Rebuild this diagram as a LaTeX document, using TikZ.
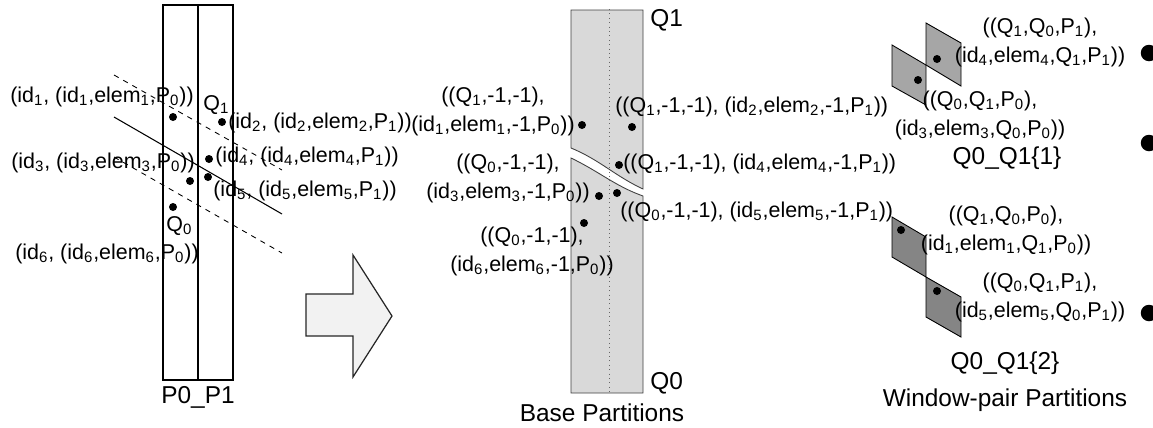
\documentclass[tikz,border=0pt]{standalone}
\usepackage{fontspec}
\setmainfont{Liberation Sans}
\usetikzlibrary{positioning}

\definecolor{basegray}{HTML}{D9D9D9}
\definecolor{paneone}{HTML}{A6A6A6}
\definecolor{panetwo}{HTML}{858585}
\definecolor{arrowgray}{HTML}{F2F2F2}
\newcommand{\ix}[1]{\textsubscript{#1}}

\begin{document}
\begin{tikzpicture}[x=0.02cm, y=-0.02cm]
        \tikzstyle{tuple}=[font=\fontsize{12.2}{16.5}\selectfont, inner sep=0pt, align=center];
        \tikzstyle{caption}=[font=\fontsize{13.9}{16}\selectfont, inner sep=0pt];
        \tikzstyle{elemdot}=[circle, fill=black, inner sep=0pt, minimum size=0.16cm];
        \tikzstyle{edgedot}=[circle, fill=black, inner sep=0pt, minimum size=0.33cm];
        \tikzstyle{pane}=[draw=black, line width=0.5pt];

        \useasboundingbox (0,0) rectangle (1153,427);

        % input strip P0_P1
        \draw [line width=0.6pt] (163,5) rectangle (233,380);
        \draw [line width=0.6pt] (198,5) -- (198,380);
        \node [caption] (P0P1) at (198,397) {P0\_P1};

        \draw [dashed, line width=0.5pt] (114,75) -- (282,170);
        \draw [line width=0.6pt] (114,117) -- (282,214);
        \draw [dashed, line width=0.5pt] (114,157) -- (282,253);

        \node [elemdot] (a1) at (173,117) {};
        \node [elemdot] (a2) at (222,122) {};
        \node [elemdot] (a4) at (209,159) {};
        \node [elemdot] (a3) at (190,181) {};
        \node [elemdot] (a5) at (208,177) {};
        \node [elemdot] (a6) at (173,207) {};

        \node [tuple] (t1) at (102,97) {(id\ix1, (id\ix1,elem\ix1,P\ix0))};
        \node [tuple, anchor=west] (Q1a) at (203,105) {Q\ix1};
        \node [tuple, anchor=west] (t2) at (228,123) {(id\ix2, (id\ix2,elem\ix2,P\ix1))};
        \node [tuple, anchor=west] (t4) at (215,157) {(id\ix4, (id\ix4,elem\ix4,P\ix1))};
        \node [tuple, anchor=east] (t3) at (195,163) {(id\ix3, (id\ix3,elem\ix3,P\ix0))};
        \node [tuple, anchor=west] (t5) at (213,191) {(id\ix5, (id\ix5,elem\ix5,P\ix1))};
        \node [tuple, anchor=west] (Q0a) at (166,226) {Q\ix0};
        \node [tuple, anchor=east] (t6) at (199,254) {(id\ix6, (id\ix6,elem\ix6,P\ix0))};

        % block arrow
        \draw [fill=arrowgray, draw=black!85, line width=0.7pt] (306,294) -- (353,294) -- (353,255) -- (392,316) -- (353,377) -- (353,336) -- (306,336) -- cycle;

        % base partitions, cut in two
        \draw [fill=basegray, draw=black!75, line width=0.5pt] (571,10) -- (643,10) -- (643,189) .. controls (615,176) and (600,160) .. (571,148) -- cycle;
        \draw [fill=basegray, draw=black!75, line width=0.5pt] (571,158) .. controls (600,172) and (615,186) .. (643,196) -- (643,393) -- (571,393) -- cycle;
        \draw [dotted, black!60, line width=0.5pt] (609,9) -- (609,393);
        \node [caption, anchor=west] (Q1b) at (650,20) {Q1};
        \node [caption, anchor=west] (Q0b) at (650,383) {Q0};
        \node [caption] (base) at (602,413) {Base Partitions};

        \node [elemdot] (b1) at (582,125) {};
        \node [elemdot] (b2) at (632,127) {};
        \node [elemdot] (b4) at (619,165) {};
        \node [elemdot] (b3) at (599,196) {};
        \node [elemdot] (b5) at (617,193) {};
        \node [elemdot] (b6) at (584,223) {};

        \node [tuple] (u1) at (493,111) {((Q\ix1,-1,-1),\\(id\ix1,elem\ix1,-1,P\ix0))};
        \node [tuple, anchor=west] (u2) at (615,107) {((Q\ix1,-1,-1), (id\ix2,elem\ix2,-1,P\ix1))};
        \node [tuple, anchor=west] (u4) at (623,164) {((Q\ix1,-1,-1), (id\ix4,elem\ix4,-1,P\ix1))};
        \node [tuple] (u3) at (508,178) {((Q\ix0,-1,-1),\\(id\ix3,elem\ix3,-1,P\ix0))};
        \node [tuple, anchor=west] (u5) at (620,212) {((Q\ix0,-1,-1), (id\ix5,elem\ix5,-1,P\ix1))};
        \node [tuple] (u6) at (532,251) {((Q\ix0,-1,-1),\\(id\ix6,elem\ix6,-1,P\ix0))};

        % window-pair partitions
        \draw [pane, fill=paneone] (892,45) -- (926,65) -- (926,105) -- (892,86) -- cycle;
        \draw [pane, fill=paneone] (926,23) -- (961,43) -- (961,86) -- (926,65) -- cycle;
        \draw [pane, fill=panetwo] (892,217) -- (926,237) -- (926,277) -- (892,257) -- cycle;
        \draw [pane, fill=panetwo] (926,277) -- (961,297) -- (961,337) -- (926,317) -- cycle;

        \node [elemdot] (c3) at (918,80) {};
        \node [elemdot] (c4) at (937,59) {};
        \node [elemdot] (c1) at (901,230) {};
        \node [elemdot] (c5) at (937,291) {};

        \node [tuple] (v4) at (1040,42) {((Q\ix1,Q\ix0,P\ix1),\\(id\ix4,elem\ix4,Q\ix1,P\ix1))};
        \node [tuple] (v3) at (980,115) {((Q\ix0,Q\ix1,P\ix0),\\(id\ix3,elem\ix3,Q\ix0,P\ix0))};
        \node [caption] (win1) at (1007,158) {Q0\_Q1\{1\}};
        \node [tuple] (v1) at (1006,230) {((Q\ix1,Q\ix0,P\ix0),\\(id\ix1,elem\ix1,Q\ix1,P\ix0))};
        \node [tuple] (v5) at (1040,297) {((Q\ix0,Q\ix1,P\ix1),\\(id\ix5,elem\ix5,Q\ix0,P\ix1))};
        \node [caption] (win2) at (1005,363) {Q0\_Q1\{2\}};
        \node [caption] (wpp) at (1005,400) {Window-pair Partitions};

        \node [edgedot] (e1) at (1149,53) {};
        \node [edgedot] (e2) at (1149,143) {};
        \node [edgedot] (e3) at (1149,313) {};
    \end{tikzpicture}
\end{document}
